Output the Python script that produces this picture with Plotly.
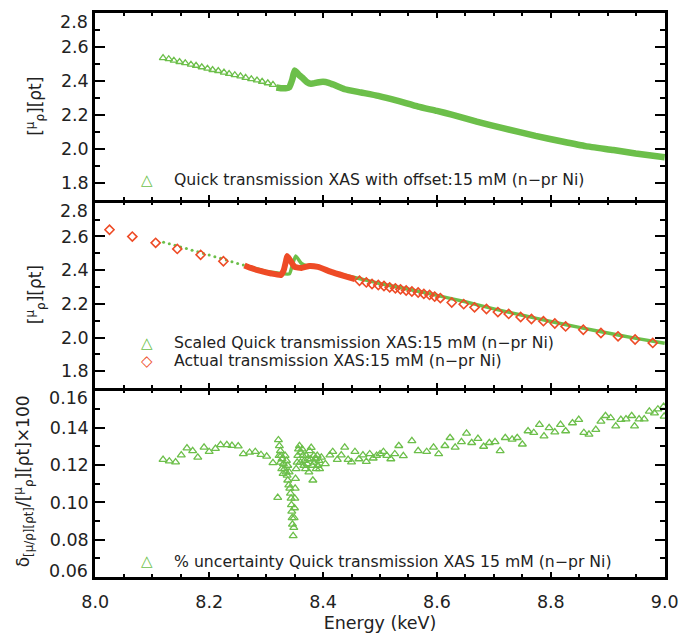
import plotly.graph_objects as go

GREEN = "#6cbf4a"
RED = "#ee4b26"
FONT = "DejaVu Sans"

# ---------------- top panel: Quick transmission XAS with offset ----------------
top_pre_E = [8.119, 8.129, 8.138, 8.148, 8.158, 8.168, 8.177, 8.187, 8.197, 8.206, 8.216,
             8.226, 8.235, 8.245, 8.255, 8.264, 8.274, 8.284, 8.293, 8.303, 8.312]
top_pre_V = [2.536, 2.530, 2.521, 2.513, 2.506, 2.497, 2.491, 2.482, 2.474, 2.466, 2.460,
             2.451, 2.443, 2.436, 2.429, 2.420, 2.412, 2.405, 2.397, 2.388, 2.379]
top_E = [8.318, 8.326, 8.334, 8.341, 8.346, 8.350, 8.354, 8.358, 8.365, 8.372, 8.379,
         8.390, 8.400, 8.410, 8.420, 8.438, 8.467, 8.497, 8.530, 8.567, 8.600, 8.626,
         8.670, 8.714, 8.773, 8.820, 8.861, 8.910, 8.949, 9.000]
top_V = [2.362, 2.358, 2.358, 2.365, 2.410, 2.462, 2.450, 2.435, 2.415, 2.393, 2.384,
         2.392, 2.396, 2.390, 2.377, 2.352, 2.333, 2.313, 2.285, 2.250, 2.225, 2.203,
         2.162, 2.125, 2.078, 2.045, 2.018, 1.995, 1.975, 1.953]

# ---------------- middle panel ----------------
mid_green_pre_E = [8.12, 8.13, 8.14, 8.15, 8.16, 8.17, 8.18, 8.19, 8.20, 8.21, 8.22,
                   8.23, 8.24, 8.25, 8.26]
mid_green_pre_V = [2.565, 2.556, 2.547, 2.537, 2.528, 2.518, 2.509, 2.499, 2.490, 2.480,
                   2.470, 2.460, 2.450, 2.440, 2.430]
mid_green_E = [8.265, 8.300, 8.320, 8.341, 8.346, 8.352, 8.362, 8.372, 8.390, 8.414,
               8.440, 8.470, 8.500, 8.550, 8.600, 8.650, 8.700, 8.750, 8.800, 8.850,
               8.900, 8.950, 9.000]
mid_green_V = [2.425, 2.392, 2.383, 2.378, 2.430, 2.484, 2.440, 2.425, 2.422, 2.393,
               2.368, 2.345, 2.320, 2.287, 2.250, 2.212, 2.170, 2.132, 2.095, 2.060,
               2.027, 1.995, 1.966]

red_pre_E = [8.025, 8.065, 8.106, 8.144, 8.185, 8.225]
red_pre_V = [2.640, 2.599, 2.562, 2.526, 2.491, 2.453]
red_dense_E = [8.262, 8.273, 8.290, 8.309, 8.326, 8.331, 8.335, 8.337, 8.343, 8.350,
               8.362, 8.376, 8.391, 8.414, 8.438, 8.456]
red_dense_V = [2.428, 2.413, 2.395, 2.380, 2.371, 2.400, 2.455, 2.484, 2.455, 2.419,
               2.413, 2.425, 2.419, 2.390, 2.365, 2.347]
red_post_E = [8.464, 8.476, 8.486, 8.497, 8.507, 8.517, 8.527, 8.536, 8.546, 8.556,
              8.567, 8.577, 8.587, 8.596, 8.606, 8.626, 8.647, 8.666, 8.687, 8.707,
              8.726, 8.747, 8.766, 8.787, 8.807, 8.826, 8.857, 8.888, 8.918, 8.948, 8.979]
red_post_V = [2.337, 2.327, 2.318, 2.312, 2.306, 2.298, 2.292, 2.286, 2.279, 2.273,
              2.267, 2.259, 2.253, 2.243, 2.234, 2.208, 2.198, 2.179, 2.169, 2.151,
              2.140, 2.122, 2.110, 2.097, 2.083, 2.066, 2.046, 2.027, 2.007, 1.988, 1.968]

# ---------------- bottom panel: % uncertainty ----------------
unc_E = [8.119, 8.130, 8.141, 8.151, 8.161, 8.171, 8.180, 8.191, 8.200, 8.211, 8.220,
         8.231, 8.240, 8.251, 8.260, 8.271, 8.281, 8.291, 8.301, 8.312,
         8.3204, 8.3216, 8.3233, 8.3251, 8.3263, 8.3280, 8.3304, 8.3322, 8.3351, 8.3369,
         8.3380, 8.3398, 8.3416, 8.3428, 8.3439, 8.3445, 8.3451, 8.3457, 8.3463, 8.3475,
         8.3486, 8.3492, 8.3498, 8.3504, 8.3510, 8.3516, 8.3528, 8.3545, 8.3569, 8.3586,
         8.3616, 8.3645, 8.3674, 8.3704, 8.3733, 8.3763, 8.3792, 8.3810, 8.3821, 8.3851,
         8.3880, 8.3910, 8.3939,
         8.3228, 8.3251, 8.3275, 8.3298, 8.3334, 8.3357, 8.3380, 8.3404, 8.3557, 8.3604,
         8.3633, 8.3663, 8.3692, 8.3722, 8.3751, 8.3781, 8.3839, 8.3869, 8.3898, 8.3928,
         8.397, 8.404, 8.412, 8.417, 8.425, 8.432, 8.438, 8.444, 8.450, 8.456, 8.463,
         8.470, 8.476, 8.482, 8.488, 8.494, 8.500, 8.506, 8.512, 8.519, 8.526, 8.533,
         8.541, 8.556, 8.567, 8.582, 8.594, 8.603, 8.614, 8.623, 8.632, 8.643, 8.652,
         8.661, 8.672, 8.682, 8.692, 8.702, 8.711, 8.720, 8.732, 8.741, 8.750, 8.760,
         8.770, 8.780, 8.788, 8.797, 8.807, 8.817, 8.826, 8.838, 8.849, 8.858, 8.867,
         8.879, 8.888, 8.896, 8.905, 8.914, 8.923, 8.932, 8.942, 8.947, 8.955, 8.964,
         8.973, 8.982, 8.988, 8.999, 8.998]
unc_V = [0.1230, 0.1221, 0.1216, 0.1254, 0.1291, 0.1277, 0.1242, 0.1295, 0.1272, 0.1289,
         0.1309, 0.1309, 0.1305, 0.1302, 0.1260, 0.1268, 0.1272, 0.1256, 0.1247, 0.1212,
         0.1026, 0.1335, 0.1303, 0.1277, 0.1251, 0.1233, 0.1207, 0.1180, 0.1163, 0.1145,
         0.1119, 0.1093, 0.1075, 0.1049, 0.1022, 0.0987, 0.0952, 0.0917, 0.0882, 0.0821,
         0.0865, 0.0917, 0.0970, 0.1022, 0.1075, 0.1128, 0.1180, 0.1215, 0.1286, 0.1303,
         0.1268, 0.1251, 0.1224, 0.1251, 0.1233, 0.1277, 0.1294, 0.1198, 0.1119, 0.1215,
         0.1180, 0.1198, 0.1180,
         0.1251, 0.1215, 0.1180, 0.1154, 0.1251, 0.1224, 0.1198, 0.1163, 0.1251, 0.1215,
         0.1286, 0.1198, 0.1180, 0.1207, 0.1163, 0.1233, 0.1251, 0.1233, 0.1251, 0.1224,
         0.1242, 0.1207, 0.1254, 0.1272, 0.1230, 0.1254, 0.1295, 0.1230, 0.1216, 0.1272,
         0.1233, 0.1254, 0.1219, 0.1260, 0.1237, 0.1251, 0.1260, 0.1272, 0.1251, 0.1233,
         0.1260, 0.1304,
         0.1250, 0.1330, 0.1277, 0.1272, 0.1295, 0.1260, 0.1304, 0.1347, 0.1295, 0.1325,
         0.1370, 0.1320, 0.1342, 0.1300, 0.1320, 0.1325, 0.1277, 0.1347, 0.1338, 0.1347,
         0.1312, 0.1383, 0.1374, 0.1417, 0.1356, 0.1400, 0.1377, 0.1417, 0.1383, 0.1426,
         0.1444, 0.1374, 0.1365, 0.1391, 0.1435, 0.1465, 0.1453, 0.1409, 0.1444, 0.1447,
         0.1465, 0.1409, 0.1447, 0.1447, 0.1488, 0.1479, 0.1500, 0.1462, 0.1514]

x_ticks = [8.0, 8.2, 8.4, 8.6, 8.8, 9.0]

fig = go.Figure()

tri = dict(symbol="triangle-up-open", color=GREEN, line=dict(width=1.3, color=GREEN))

# top
fig.add_trace(go.Scatter(x=top_pre_E, y=top_pre_V, mode="markers", xaxis="x3", yaxis="y3",
                         marker=dict(size=6.5, **tri)))
fig.add_trace(go.Scatter(x=top_E, y=top_V, mode="lines", xaxis="x3", yaxis="y3",
                         line=dict(color=GREEN, width=6.5, shape="spline", smoothing=0.4)))
# middle
fig.add_trace(go.Scatter(x=mid_green_pre_E, y=mid_green_pre_V, mode="markers", xaxis="x2", yaxis="y2",
                         marker=dict(size=3, color=GREEN)))
fig.add_trace(go.Scatter(x=mid_green_E, y=mid_green_V, mode="lines", xaxis="x2", yaxis="y2",
                         line=dict(color=GREEN, width=3.5, shape="spline", smoothing=0.4)))
fig.add_trace(go.Scatter(x=red_dense_E, y=red_dense_V, mode="lines", xaxis="x2", yaxis="y2",
                         line=dict(color=RED, width=6, shape="spline", smoothing=0.4)))
red_d = dict(symbol="diamond-open", color=RED, line=dict(width=1.6, color=RED))
fig.add_trace(go.Scatter(x=red_pre_E + red_post_E, y=red_pre_V + red_post_V, mode="markers",
                         xaxis="x2", yaxis="y2", marker=dict(size=7, **red_d)))
# bottom
fig.add_trace(go.Scatter(x=unc_E, y=unc_V, mode="markers", xaxis="x", yaxis="y",
                         marker=dict(size=7, **tri)))

LW = 2.5
H = 564.0
gap = LW / H

tickfont = dict(family=FONT, size=17.5, color="#222")
xcommon = dict(range=[7.9995, 9.0005], showline=True, linewidth=LW, linecolor="black",
               mirror="ticks", ticks="inside", ticklen=5, tickwidth=1.5, tickcolor="black",
               tickvals=x_ticks, minor=dict(dtick=0.05, tick0=8.0, ticks="inside", ticklen=3,
                                            tickwidth=1.5, tickcolor="black"),
               showgrid=False, zeroline=False, automargin=False)
ycommon = dict(showline=True, linewidth=LW, linecolor="black", mirror="ticks",
               ticks="inside", ticklen=10, tickwidth=2, tickcolor="black",
               showgrid=False, zeroline=False, tickfont=tickfont, automargin=False)

fig.update_layout(
    width=680, height=634,
    margin=dict(l=95, r=15, t=13, b=57, autoexpand=False),
    paper_bgcolor="white", plot_bgcolor="white",
    showlegend=False,
    font=dict(family=FONT, color="#222"),
    xaxis=dict(**xcommon, anchor="y", tickformat=".1f", tickfont=tickfont,
               ticklabelstandoff=7,
               title=dict(text="Energy (keV)", font=dict(family=FONT, size=17.5, color="#222"),
                          standoff=6)),
    xaxis2=dict(**xcommon, anchor="y2", matches="x", showticklabels=False),
    xaxis3=dict(**xcommon, anchor="y3", matches="x", showticklabels=False),
    yaxis=dict(**ycommon, domain=[0, 0.335 - gap], range=[0.06, 0.16],
               tickvals=[0.08, 0.10, 0.12, 0.14], tickformat=".2f",
               minor=dict(dtick=0.01, tick0=0.06, ticks="inside", ticklen=5, tickwidth=2,
                          tickcolor="black")),
    yaxis2=dict(**ycommon, domain=[0.335, 0.668 - gap], range=[1.7, 2.8],
                tickvals=[1.8, 2.0, 2.2, 2.4, 2.6], tickformat=".1f",
                minor=dict(dtick=0.1, tick0=1.7, ticks="inside", ticklen=5, tickwidth=2,
                           tickcolor="black")),
    yaxis3=dict(**ycommon, domain=[0.668, 1.0], range=[1.7, 2.8],
                tickvals=[1.8, 2.0, 2.2, 2.4, 2.6], tickformat=".1f",
                minor=dict(dtick=0.1, tick0=1.7, ticks="inside", ticklen=5, tickwidth=2,
                           tickcolor="black")),
)

ann = []
# edge tick labels (shifted inward as in the original)
for yref, yv, txt, shift in [("y3", 2.8, "2.8", -9), ("y2", 2.8, "2.8", -8),
                             ("y", 0.16, "0.16", -7), ("y", 0.06, "0.06", 6)]:
    ann.append(dict(xref="paper", yref=yref, x=0, y=yv, text=txt, showarrow=False,
                    xanchor="right", yanchor="middle", xshift=-5, yshift=shift, font=tickfont))

legfont = dict(family=FONT, size=15.7, color="#222")
symfont_g = dict(family=FONT, size=15, color=GREEN)
symfont_r = dict(family=FONT, size=15, color=RED)
legends = [
    (0.704, "△", symfont_g, "Quick transmission XAS with offset:15 mM (n−pr Ni)"),
    (0.415, "△", symfont_g, "Scaled Quick transmission XAS:15 mM (n−pr Ni)"),
    (0.383, "◇", symfont_r, "Actual transmission XAS:15 mM (n−pr Ni)"),
    (0.028, "△", symfont_g, "% uncertainty Quick transmission XAS 15 mM (n−pr Ni)"),
]
for y, sym, sf, txt in legends:
    ann.append(dict(xref="paper", yref="paper", x=0.091, y=y, text=sym, showarrow=False,
                    xanchor="center", yanchor="middle", font=sf))
    ann.append(dict(xref="paper", yref="paper", x=0.135, y=y, text=txt, showarrow=False,
                    xanchor="left", yanchor="middle", font=legfont))

# y-axis titles
ytf = dict(family=FONT, size=17, color="#222")
ann.append(dict(xref="paper", yref="paper", x=-0.105, y=0.834, textangle=-90,
                text="[<sup>μ</sup><sub>ρ</sub>][ρt]", showarrow=False, font=ytf,
                xanchor="center", yanchor="middle"))
ann.append(dict(xref="paper", yref="paper", x=-0.105, y=0.5, textangle=-90,
                text="[<sup>μ</sup><sub>ρ</sub>][ρt]", showarrow=False, font=ytf,
                xanchor="center", yanchor="middle"))
ann.append(dict(xref="paper", yref="paper", x=-0.126, y=0.17, textangle=-90,
                text="δ<sub>[μ/ρ][ρt]</sub>/[<sup>μ</sup><sub>ρ</sub>][ρt]×100",
                showarrow=False, font=ytf, xanchor="center", yanchor="middle"))
fig.update_layout(annotations=ann)

fig.write_html("out.html")
